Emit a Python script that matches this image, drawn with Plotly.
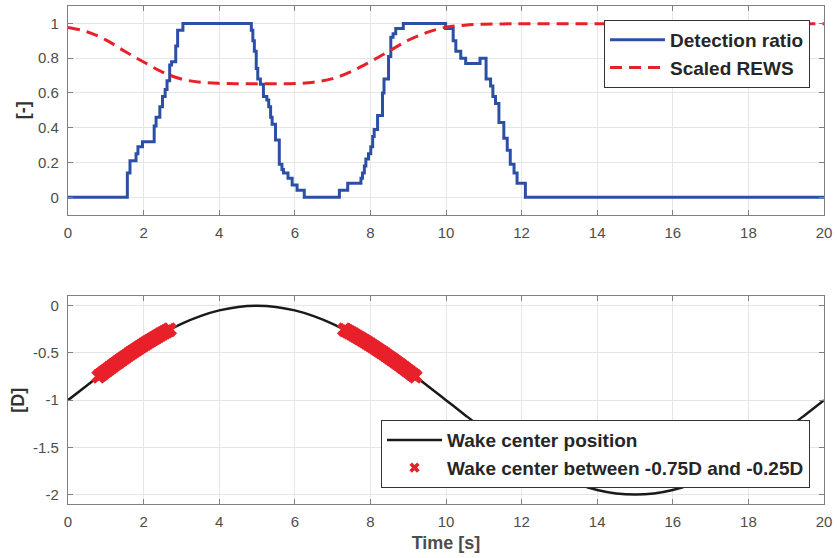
import plotly.graph_objects as go

# ---- data ----
det_t = [0, 1.57, 1.64, 1.80, 1.85, 1.97, 2.28, 2.33, 2.43, 2.50, 2.57, 2.62, 2.69, 2.74, 2.85, 2.90, 3.04,
         4.85, 4.89, 4.93, 4.98, 5.02, 5.09, 5.17, 5.26, 5.31, 5.36, 5.40, 5.49, 5.59, 5.66, 5.70, 5.82, 5.93, 6.06, 6.25,
         7.18, 7.40, 7.75, 7.79, 7.84, 7.88, 7.95, 8.01, 8.06, 8.10, 8.19, 8.32, 8.36, 8.48, 8.54, 8.60, 8.67, 8.87,
         9.99, 10.19, 10.26, 10.39, 10.52, 10.90, 11.06, 11.18, 11.24, 11.31, 11.40, 11.53, 11.62, 11.70, 11.80, 11.88, 12.10, 20]
det_v = [0, 0.14, 0.21, 0.25, 0.29, 0.32, 0.41, 0.46, 0.52, 0.58, 0.62, 0.67, 0.76, 0.78, 0.87, 0.96, 1.0,
         0.96, 0.90, 0.84, 0.74, 0.68, 0.65, 0.58, 0.56, 0.52, 0.46, 0.42, 0.33, 0.19, 0.16, 0.14, 0.11, 0.07, 0.04, 0,
         0.04, 0.08, 0.11, 0.14, 0.18, 0.22, 0.25, 0.29, 0.35, 0.39, 0.47, 0.60, 0.68, 0.81, 0.92, 0.94, 0.97, 1.0,
         0.97, 0.90, 0.84, 0.80, 0.77, 0.80, 0.68, 0.64, 0.58, 0.54, 0.43, 0.34, 0.27, 0.19, 0.14, 0.08, 0, 0]

rews_t = [0, 0.5, 1, 1.5, 2, 2.5, 3, 3.5, 4, 4.5, 5, 5.5, 6, 6.5, 7, 7.5, 8, 8.5, 9, 9.5, 10, 10.5, 11, 11.5, 12,
          13, 14, 15, 16, 17, 18, 19, 20]
rews_v = [0.977, 0.952, 0.905, 0.84, 0.778, 0.72, 0.68, 0.662, 0.655, 0.653, 0.653, 0.653, 0.654, 0.662, 0.682,
          0.724, 0.78, 0.841, 0.903, 0.948, 0.978, 0.99, 0.995, 0.997, 0.998, 0.998, 0.998, 0.998, 0.998, 0.998,
          0.998, 0.998, 0.998]

wake_t = [0, 0.5, 1, 1.5, 2, 2.5, 3, 3.5, 4, 4.5, 5, 5.5, 6, 6.5, 7, 7.5, 8, 8.5, 9, 9.5, 10,
          10.5, 11, 11.5, 12, 12.5, 13, 13.5, 14, 14.5, 15, 15.5, 16, 16.5, 17, 17.5, 18, 18.5, 19, 19.5, 20]
wake_v = [-1, -0.844, -0.691, -0.546, -0.412, -0.293, -0.191, -0.109, -0.049, -0.012, 0,
          -0.012, -0.049, -0.109, -0.191, -0.293, -0.412, -0.546, -0.691, -0.844, -1,
          -1.156, -1.309, -1.454, -1.588, -1.707, -1.809, -1.891, -1.951, -1.988, -2,
          -1.988, -1.951, -1.891, -1.809, -1.707, -1.588, -1.454, -1.309, -1.156, -1]

sel_t = [0.81, 0.85, 0.9, 0.95, 1.0, 1.05, 1.1, 1.15, 1.2, 1.25, 1.3, 1.35, 1.4, 1.45, 1.5, 1.55, 1.6, 1.65,
         1.7, 1.75, 1.8, 1.85, 1.9, 1.95, 2.0, 2.05, 2.1, 2.15, 2.2, 2.25, 2.3, 2.35, 2.4, 2.45, 2.5, 2.55,
         2.6, 2.65, 2.69,
         7.31, 7.35, 7.4, 7.45, 7.5, 7.55, 7.6, 7.65, 7.7, 7.75, 7.8, 7.85, 7.9, 7.95, 8.0, 8.05, 8.1, 8.15,
         8.2, 8.25, 8.3, 8.35, 8.4, 8.45, 8.5, 8.55, 8.6, 8.65, 8.7, 8.75, 8.8, 8.85, 8.9, 8.95, 9.0, 9.05,
         9.1, 9.15, 9.19]
sel_v = [-0.748, -0.736, -0.721, -0.706, -0.691, -0.676, -0.661, -0.647, -0.632, -0.617, -0.603, -0.589,
         -0.574, -0.560, -0.546, -0.532, -0.518, -0.505, -0.491, -0.478, -0.464, -0.451, -0.438, -0.425,
         -0.412, -0.400, -0.387, -0.375, -0.363, -0.351, -0.339, -0.327, -0.316, -0.304, -0.293, -0.282,
         -0.271, -0.260, -0.252,
         -0.252, -0.260, -0.271, -0.282, -0.293, -0.304, -0.316, -0.327, -0.339, -0.351, -0.363, -0.375,
         -0.387, -0.400, -0.412, -0.425, -0.438, -0.451, -0.464, -0.478, -0.491, -0.505, -0.518, -0.532,
         -0.546, -0.560, -0.574, -0.589, -0.603, -0.617, -0.632, -0.647, -0.661, -0.676, -0.691, -0.706,
         -0.721, -0.736, -0.748]

x_ticks = [0, 2, 4, 6, 8, 10, 12, 14, 16, 18, 20]
top_ticks = [0, 0.2, 0.4, 0.6, 0.8, 1]
top_labels = ["0", "0.2", "0.4", "0.6", "0.8", "1"]
bot_ticks = [0, -0.5, -1, -1.5, -2]
bot_labels = ["0", "-0.5", "-1", "-1.5", "-2"]

FONT = "Liberation Sans, Arial, sans-serif"
BLUE = "#2c4fa6"
RED = "#e8202a"

fig = go.Figure()
fig.add_trace(go.Scatter(x=det_t, y=det_v, mode="lines", line=dict(color=BLUE, width=3, shape="hv"),
                         name="Detection ratio", xaxis="x", yaxis="y", legend="legend"))
fig.add_trace(go.Scatter(x=rews_t, y=rews_v, mode="lines", line=dict(color=RED, width=3, dash="12px,7px", shape="spline"),
                         name="Scaled REWS", xaxis="x", yaxis="y", legend="legend"))
fig.add_trace(go.Scatter(x=wake_t, y=wake_v, mode="lines", line=dict(color="#1a1a1a", width=2.5, shape="spline"),
                         name="Wake center position", xaxis="x2", yaxis="y2", legend="legend2"))
fig.add_trace(go.Scatter(x=sel_t, y=sel_v, mode="markers", marker=dict(color=RED, symbol="x", size=13),
                         name="Wake center between -0.75D and -0.25D", xaxis="x2", yaxis="y2",
                         showlegend=False))
# legend entry with the small marker used in the reference legend
fig.add_trace(go.Scatter(x=[None], y=[None], mode="markers", marker=dict(color=RED, symbol="x", size=9),
                         name="Wake center between -0.75D and -0.25D", xaxis="x2", yaxis="y2", legend="legend2"))

axis_common = dict(showline=True, mirror="ticks", linecolor="#808080", linewidth=1.2,
                   ticks="inside", ticklen=5, tickcolor="#808080", showgrid=True, gridcolor="#e6e6e6",
                   gridwidth=1, zeroline=False, tickfont=dict(family=FONT, size=15, color="#4d4d4d"))

legend_font = dict(family=FONT, size=19, color="#262626", weight="bold")

fig.update_layout(
    width=837, height=558,
    margin=dict(l=68, r=11, t=5, b=54),
    plot_bgcolor="white", paper_bgcolor="white",
    font=dict(family=FONT),
    xaxis=dict(domain=[0, 1], range=[0, 20], tickvals=x_ticks, anchor="y", ticklabelstandoff=4, **axis_common),
    yaxis=dict(domain=[0.581, 1], range=[-0.1, 1.1], tickvals=top_ticks, ticktext=top_labels, anchor="x",
               ticklabelstandoff=5,
               title=dict(text="<b>[-]</b>", font=dict(family=FONT, size=18, color="#333333"), standoff=3),
               **axis_common),
    xaxis2=dict(domain=[0, 1], range=[0, 20], tickvals=x_ticks, anchor="y2", ticklabelstandoff=4,
                title=dict(text="<b>Time [s]</b>", font=dict(family=FONT, size=18, color="#4d4d4d"), standoff=7),
                **axis_common),
    yaxis2=dict(domain=[0, 0.417], range=[-2.1, 0.1], tickvals=bot_ticks, ticktext=bot_labels, anchor="x2",
                ticklabelstandoff=5,
                title=dict(text="<b>[D]</b>", font=dict(family=FONT, size=18, color="#333333"), standoff=3),
                **axis_common),
    legend=dict(x=0.9815, xanchor="right", y=0.972, yanchor="top", bgcolor="white",
                bordercolor="#333333", borderwidth=1, font=legend_font,
                tracegroupgap=0, itemwidth=55),
    legend2=dict(x=0.9815, xanchor="right", y=0.032, yanchor="bottom", bgcolor="white",
                 bordercolor="#333333", borderwidth=1, font=legend_font,
                 tracegroupgap=0, itemwidth=55),
    showlegend=True,
)

fig.write_html("out.html")
